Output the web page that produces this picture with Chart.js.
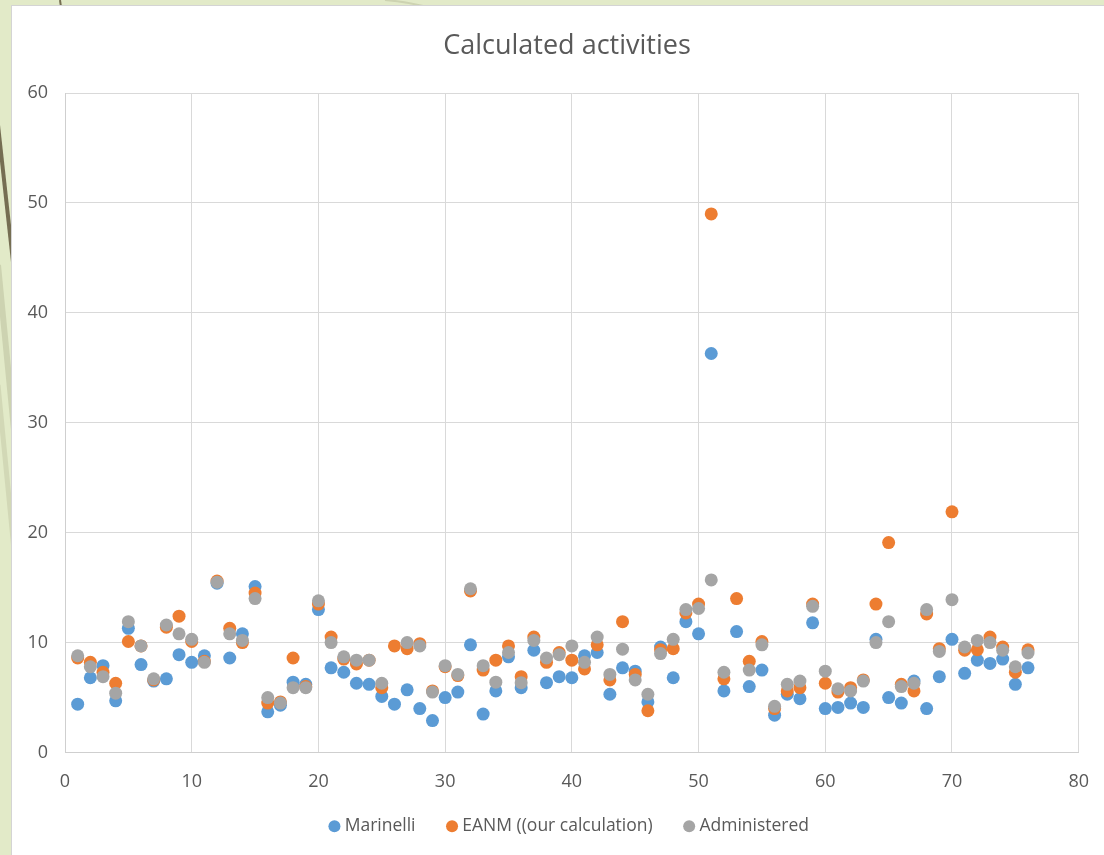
<!DOCTYPE html>
<html>
<head>
<meta charset="utf-8">
<script src="https://cdn.jsdelivr.net/npm/chart.js@4"></script>
<style>
  html, body { margin: 0; padding: 0; }
  body { width: 1104px; height: 855px; overflow: hidden; background: #e2eac8; position: relative; font-family: "Open Sans", sans-serif; }
  #deco { position: absolute; left: 0; top: 0; }
  #frame { position: absolute; left: 11px; top: 5px; width: 1100px; height: 860px; background: #fff; border: 1px solid #d4d4d4; }
  #box { position: absolute; left: 12px; top: 6px; width: 1092px; height: 849px; }
</style>
</head>
<body>
<svg id="deco" width="1104" height="855">
  <line x1="-2" y1="125" x2="15" y2="280" stroke="#756e52" stroke-width="4"/>
  <line x1="-2" y1="265" x2="15" y2="440" stroke="#cdd3b1" stroke-width="6"/>
  <line x1="-2" y1="385" x2="15" y2="560" stroke="#d2d8b6" stroke-width="5"/>
  <line x1="60" y1="0" x2="61" y2="7" stroke="#756e52" stroke-width="2"/>
  <path d="M 385 0 Q 410 2 430 8" stroke="#cdd3b1" stroke-width="2" fill="none"/>
</svg>
<div id="frame"></div>
<div id="box"><canvas id="chart"></canvas></div>
<script>
// Sample numbers (x) and the three activity series (y)
const sampleNo = [1,2,3,4,5,6,7,8,9,10,11,12,13,14,15,16,17,18,19,20,21,22,23,24,25,26,27,28,29,30,31,32,33,34,35,36,37,38,39,40,41,42,43,44,45,46,47,48,49,50,51,52,53,54,55,56,57,58,59,60,61,62,63,64,65,66,67,68,69,70,71,72,73,74,75,76];

const marinelli = [4.4,6.8,7.9,4.7,11.3,8.0,6.5,6.7,8.9,8.2,8.8,15.4,8.6,10.8,15.1,3.7,4.3,6.4,6.2,13.0,
  7.7,7.3,6.3,6.2,5.1,4.4,5.7,4.0,2.9,5.0,5.5,9.8,3.5,5.6,8.7,5.9,9.3,6.35,6.9,6.8,
  8.8,9.1,5.3,7.7,7.4,4.6,9.6,6.8,11.9,10.8,36.3,5.6,11.0,6.0,7.5,3.4,5.3,4.9,11.8,4.0,
  4.1,4.5,4.1,10.3,5.0,4.5,6.5,4.0,6.9,10.3,7.2,8.4,8.1,8.5,6.2,7.7];

const eanm = [8.6,8.2,7.3,6.3,10.1,9.7,6.6,11.4,12.4,10.1,8.3,15.6,11.3,10.0,14.5,4.5,4.6,8.6,6.0,13.5,
  10.5,8.5,8.05,8.4,5.9,9.7,9.45,9.9,5.6,7.8,7.0,14.7,7.5,8.4,9.7,6.9,10.5,8.2,9.1,8.4,
  7.6,9.8,6.6,11.9,7.1,3.8,9.35,9.45,12.7,13.5,49.0,6.7,14.0,8.3,10.1,4.0,5.6,5.9,13.5,6.3,
  5.5,5.9,6.6,13.5,19.1,6.2,5.6,12.6,9.45,21.9,9.3,9.35,10.5,9.6,7.3,9.35];

const administered = [8.8,7.8,6.9,5.4,11.9,9.7,6.7,11.6,10.8,10.3,8.2,15.5,10.8,10.2,14.0,5.0,4.5,5.9,5.9,13.8,
  10.0,8.7,8.4,8.4,6.3,null,10.0,9.7,5.5,7.9,7.1,14.9,7.9,6.4,9.1,6.35,10.2,8.6,8.9,9.7,
  8.2,10.5,7.1,9.4,6.6,5.3,9.0,10.3,13.0,13.1,15.7,7.3,null,7.5,9.8,4.2,6.2,6.5,13.3,7.4,
  5.8,5.6,6.5,10.0,11.9,6.0,6.3,13.0,9.2,13.9,9.6,10.2,10.0,9.3,7.8,9.05];

const seriesNames = ["Marinelli", "EANM ((our calculation)", "Administered"];
const seriesColors = ["#5b9bd5", "#ed7d31", "#a5a5a5"];

function toPoints(values) {
  return sampleNo.map((x, i) => ({ x: x, y: values[i] }));
}

const allSeries = [marinelli, eanm, administered];
const datasets = allSeries.map((vals, k) => ({
  label: seriesNames[k],
  data: toPoints(vals),
  backgroundColor: seriesColors[k],
  borderColor: seriesColors[k],
  borderWidth: 0,
  pointRadius: 6.5,
  pointHoverRadius: 6.5,
  showLine: false,
  // later series paint over earlier ones
  order: allSeries.length - k
}));

const tickColor = "#595959";
const gridColor = "#d9d9d9";

// nudge title and legend a little right of the centred position,
// and give the x tick labels room below their compact axis box
const blockShift = {
  id: "blockShift",
  afterLayout(chart) {
    const lg = chart.legend;
    if (lg) { lg.left += 15; lg.right += 15; }
    const tb = chart.titleBlock;
    if (tb) { tb.left += 11; tb.right += 11; }
    const xs = chart.scales.x;
    if (xs) { xs.bottom += 25; }
  }
};

new Chart(document.getElementById("chart"), {
  type: "scatter",
  data: { datasets },
  plugins: [blockShift],
  options: {
    responsive: true,
    maintainAspectRatio: false,
    animation: false,
    layout: { padding: { left: 10, right: 14, top: 0, bottom: 10 } },
    plugins: {
      title: {
        display: true,
        text: "Calculated activities",
        color: tickColor,
        font: { family: "Open Sans", size: 27, weight: "normal" },
        padding: { top: 24, bottom: 30.6 }
      },
      legend: {
        position: "bottom",
        labels: {
          usePointStyle: true,
          pointStyle: "circle",
          boxWidth: 3,
          boxHeight: 8.5,
          padding: 35,
          color: tickColor,
          font: { family: "Open Sans", size: 17.5 },
          sort: (a, b) => a.datasetIndex - b.datasetIndex
        }
      },
      tooltip: { enabled: false }
    },
    scales: {
      x: {
        type: "linear",
        min: 0,
        max: 80,
        ticks: { stepSize: 10, color: tickColor, padding: 15, font: { family: "Open Sans", size: 18, lineHeight: 1.65 } },
        grid: { color: gridColor, drawTicks: false },
        border: { color: "#cfcfcf" },
        afterFit: (s) => { s.height = 30; }
      },
      y: {
        min: 0,
        max: 60,
        ticks: { stepSize: 10, color: tickColor, padding: 17, font: { family: "Open Sans", size: 18 } },
        grid: { color: gridColor, drawTicks: false },
        border: { color: "#cfcfcf" },
        afterFit: (s) => { s.width = 43; }
      }
    }
  }
});
</script>
</body>
</html>
